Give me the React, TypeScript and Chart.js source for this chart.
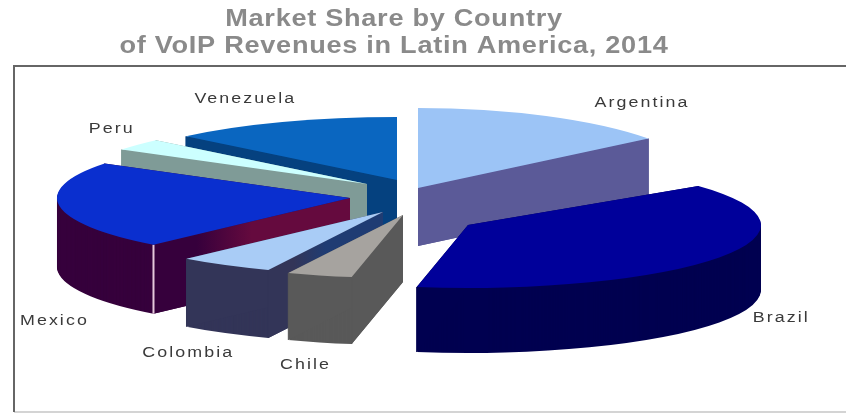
import React, { useEffect, useRef } from "react";
import { Chart, registerables } from "chart.js";

Chart.register(...registerables);

const countries = ["Argentina", "Brazil", "Chile", "Colombia", "Mexico", "Peru", "Venezuela"];
const revenueShare = [14.4, 38.4, 3.6, 5.3, 22.5, 3.0, 12.8];

const topColors = ["#9cc4f6", "#00009a", "#a6a39f", "#a9ccf6", "#0a2fcf", "#ccffff", "#0a66c0"];
const sideColors = ["#5b5a98", "#000050", "#595959", "#333558", "#36003c", "#7f9b97", "#05417f"];
// Cut face along each slice's leading edge, where it brightens towards the apex.
const cutColors = [null, null, null, "#1f3c73", "#650a3e", null, null];

// Exploded displacement of each slice from the pie centre, in pixels.
const explodeX = [24, 74, 9, -11, -44, -27, 3];
const explodeY = [-12, 25, 15, 12, -2, -16, -20];
const rimHeights = [80, 63, 63, 63, 63, 63, 63];
const wallDepths = [58, 65, 67, 68, 69, 66, 66];
const rimWidth = 293;

// Back-to-front paint sequence (slice indexes).
const paintOrder = [6, 0, 5, 4, 1, 3, 2];

// Label displacement from the middle of each slice's rim.
const labelNudgeX = [96, 62, -14, -37, -5, -26, -37];
const labelNudgeY = [-13, 60, 89, 88, 115, -16, -23];

const titleLines = ["Market Share by Country", "of VoIP Revenues in Latin America, 2014"];
const titleStretch = 1.18;
const labelStretch = 1.15;

const pie3d = {
  id: "pie3d",
  beforeDraw(chart: any) {
    // Widen the title glyphs about the title's centre line.
    const ctx = chart.ctx as CanvasRenderingContext2D;
    const cx = (chart.chartArea.left + chart.chartArea.right) / 2;
    ctx.save();
    ctx.letterSpacing = "0.6px";
    ctx.translate(cx, 0);
    ctx.scale(titleStretch, 1);
    ctx.translate(-cx, 0);
  },
  beforeDatasetsDraw(chart: any) {
    const ctx = chart.ctx as CanvasRenderingContext2D;
    ctx.restore();
    const arcs = chart.getDatasetMeta(0).data as any[];

    // Plot frame
    ctx.save();
    ctx.strokeStyle = "#d4d4d4";
    ctx.lineWidth = 2;
    ctx.beginPath();
    ctx.moveTo(14, 412);
    ctx.lineTo(846, 412);
    ctx.stroke();
    ctx.strokeStyle = "#666666";
    ctx.beginPath();
    ctx.moveTo(14, 412);
    ctx.lineTo(14, 66);
    ctx.lineTo(846, 66);
    ctx.stroke();
    ctx.restore();

    for (const i of paintOrder) {
      const arc = arcs[i];
      const ax = arc.x + explodeX[i];
      const ay = arc.y + explodeY[i];
      const ry = rimHeights[i];
      const depth = wallDepths[i];
      const baseOptions = arc.options;

      const layer = (shift: number, color: string) => {
        ctx.save();
        ctx.translate(ax, ay + shift);
        ctx.scale(rimWidth / arc.outerRadius, ry / arc.outerRadius);
        ctx.translate(-arc.x, -arc.y);
        arc.options = { ...baseOptions, backgroundColor: color };
        arc.draw(ctx);
        ctx.restore();
      };

      for (let d = depth; d > 0; d--) layer(d, sideColors[i]);
      arc.options = baseOptions;

      // Flat faces swept down from the two straight edges of the slice
      const edgeFace = (angle: number, fill: string | CanvasGradient) => {
        const rx = ax + rimWidth * Math.cos(angle);
        const rimY = ay + ry * Math.sin(angle);
        ctx.save();
        ctx.fillStyle = fill;
        ctx.strokeStyle = sideColors[i];
        ctx.lineWidth = 1;
        ctx.beginPath();
        ctx.moveTo(ax, ay);
        ctx.lineTo(rx, rimY);
        ctx.lineTo(rx, rimY + depth);
        ctx.lineTo(ax, ay + depth);
        ctx.closePath();
        ctx.fill();
        // Edges at twelve o'clock are vertical and need no corner line.
        if (Math.abs(Math.cos(angle)) > 0.01) {
          ctx.beginPath();
          ctx.moveTo(rx, rimY);
          ctx.lineTo(rx, rimY + depth);
          ctx.stroke();
        }
        ctx.restore();
      };

      edgeFace(arc.endAngle, sideColors[i]);
      const rimX = ax + rimWidth * Math.cos(arc.startAngle);
      const rimY = ay + ry * Math.sin(arc.startAngle);
      const cut = cutColors[i];
      if (cut) {
        const shade = ctx.createLinearGradient(rimX, 0, ax, 0);
        shade.addColorStop(0, sideColors[i]);
        shade.addColorStop(0.22, sideColors[i]);
        shade.addColorStop(0.5, cut);
        shade.addColorStop(1, cut);
        edgeFace(arc.startAngle, shade);
      } else {
        edgeFace(arc.startAngle, sideColors[i]);
      }

      if (countries[i] === "Mexico") {
        // Pale seam where the cut face meets the rim wall
        ctx.save();
        ctx.strokeStyle = "#e6c8dc";
        ctx.lineWidth = 2;
        ctx.beginPath();
        ctx.moveTo(rimX, rimY);
        ctx.lineTo(rimX, rimY + depth);
        ctx.stroke();
        ctx.restore();
      }

      layer(0, topColors[i]);
      arc.options = baseOptions;
    }

    // Country labels
    ctx.save();
    ctx.letterSpacing = "1.8px";
    ctx.font = "15.5px 'Liberation Sans'";
    ctx.fillStyle = "#3a3a3a";
    ctx.textAlign = "center";
    ctx.textBaseline = "middle";
    arcs.forEach((arc, i) => {
      const mid = (arc.startAngle + arc.endAngle) / 2;
      const x = arc.x + explodeX[i] + rimWidth * Math.cos(mid) + labelNudgeX[i];
      const y = arc.y + explodeY[i] + rimHeights[i] * Math.sin(mid) + labelNudgeY[i];
      ctx.save();
      ctx.translate(x, y);
      ctx.scale(labelStretch, 1);
      ctx.fillText(countries[i], 0, 0);
      ctx.restore();
    });
    ctx.restore();
    return false;
  },
};

export default function App() {
  const canvasRef = useRef<HTMLCanvasElement>(null);

  useEffect(() => {
    const chart = new Chart(canvasRef.current!, {
      type: "pie",
      data: {
        labels: countries,
        datasets: [{ data: revenueShare, backgroundColor: topColors, borderWidth: 0 }],
      },
      options: {
        responsive: false,
        animation: false,
        layout: { padding: { right: 58, bottom: 74 } },
        plugins: {
          legend: { display: false },
          tooltip: { enabled: false },
          title: {
            display: true,
            fullSize: false,
            text: titleLines,
            color: "#8a8a8a",
            padding: { top: 6, bottom: 0 },
            font: { family: "'Liberation Sans'", size: 23, weight: "bold", lineHeight: 1.174 },
          },
        },
      },
      plugins: [pie3d],
    } as any);
    return () => chart.destroy();
  }, []);

  return (
    <div style={{ position: "fixed", left: 0, top: 0, width: 846, height: 414, background: "#ffffff" }}>
      <canvas ref={canvasRef} width={846} height={414} style={{ display: "block" }} />
    </div>
  );
}
